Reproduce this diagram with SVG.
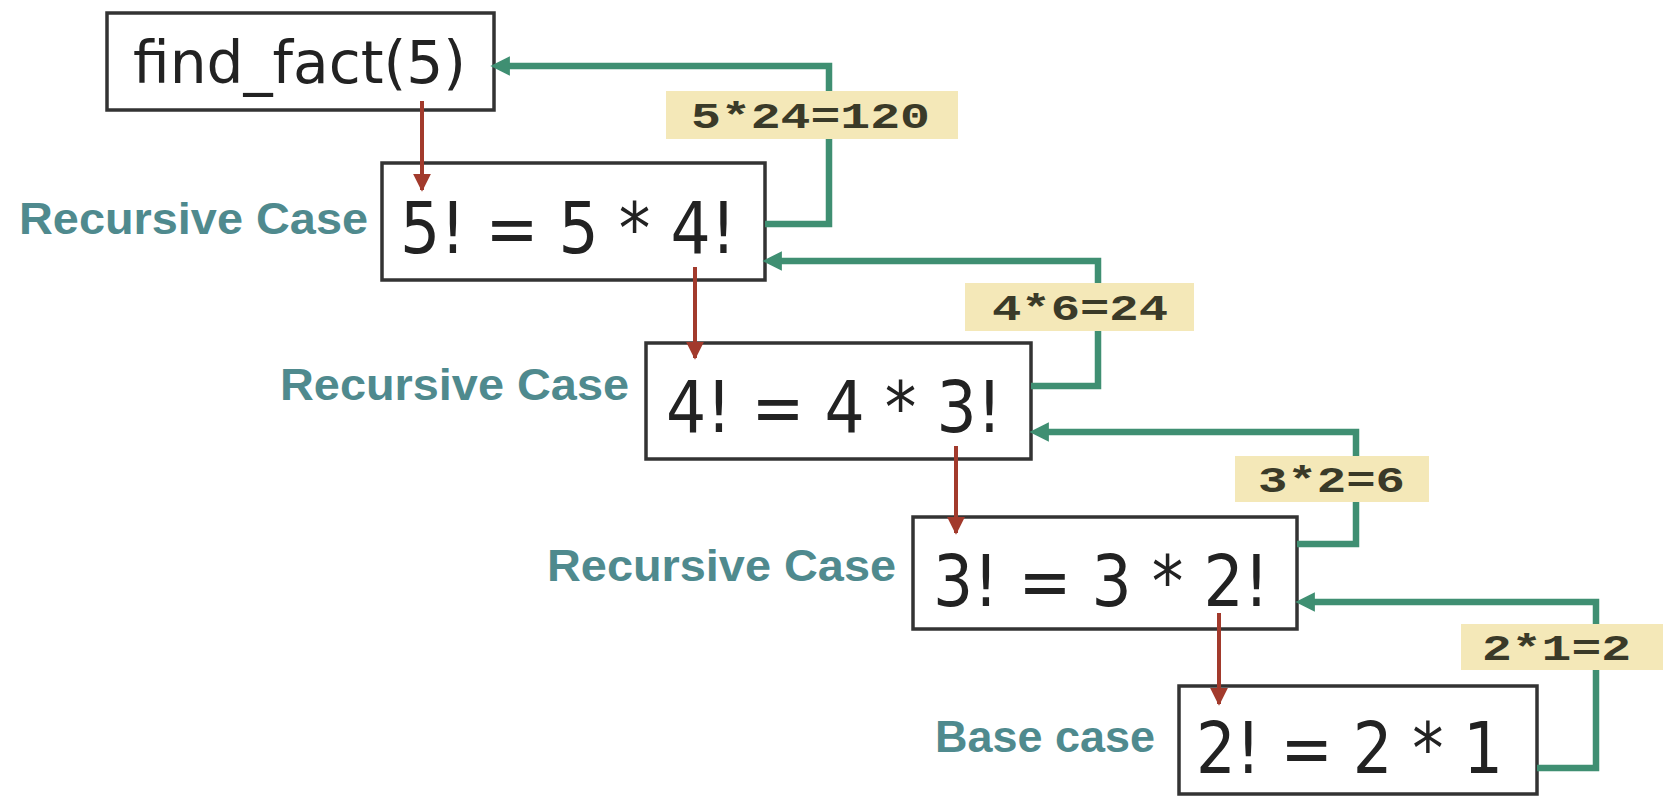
<svg xmlns="http://www.w3.org/2000/svg" width="1672" height="808" viewBox="0 0 1672 808">
<style>
.box{fill:#fff;stroke:#333;stroke-width:3.5}
.eq{font-family:"DejaVu Sans Condensed","DejaVu Sans",sans-serif;font-size:72px;fill:#222}
.call{font-family:"DejaVu Sans Condensed","DejaVu Sans",sans-serif;font-size:58px;fill:#222}
.case{font-family:"Liberation Sans",Arial,sans-serif;font-weight:bold;font-size:44px;fill:#4f8a8e}
.ret{fill:none;stroke:#3f8f72;stroke-width:6.5}
.call-arrow{fill:none;stroke:#a23a2c;stroke-width:4}
.lblbg{fill:#f4e8b8}
.lbl{font-family:"Liberation Mono","Courier New",monospace;font-weight:bold;font-size:36px;fill:#3a3a28}
</style>
<defs>
<marker id="gh" viewBox="0 0 10 10" refX="2" refY="5" markerWidth="3" markerHeight="3" orient="auto" markerUnits="strokeWidth">
<path d="M0,0 L10,5 L0,10 z" fill="#3f8f72"/>
</marker>
<marker id="rh" viewBox="0 0 10 10" refX="9" refY="5" markerWidth="4.5" markerHeight="4.5" orient="auto" markerUnits="strokeWidth">
<path d="M0,0 L10,5 L0,10 z" fill="#a23a2c"/>
</marker>
</defs>
<rect width="1672" height="808" fill="#fff"/>
<g id="node-call">
<rect class="box" x="107" y="13" width="387" height="97"/>
<text class="call" x="133" y="83" textLength="333" lengthAdjust="spacingAndGlyphs">find_fact(5)</text>
</g>
<g id="node-5">
<text class="case" x="19" y="234" textLength="349" lengthAdjust="spacingAndGlyphs">Recursive Case</text>
<rect class="box" x="382" y="163" width="383" height="117"/>
<text class="eq" x="400" y="253" textLength="336" lengthAdjust="spacingAndGlyphs">5! = 5 * 4!</text>
</g>
<g id="node-4">
<text class="case" x="280" y="400" textLength="349" lengthAdjust="spacingAndGlyphs">Recursive Case</text>
<rect class="box" x="646" y="343" width="385" height="116"/>
<text class="eq" x="666" y="432" textLength="336" lengthAdjust="spacingAndGlyphs">4! = 4 * 3!</text>
</g>
<g id="node-3">
<text class="case" x="547" y="581" textLength="349" lengthAdjust="spacingAndGlyphs">Recursive Case</text>
<rect class="box" x="913" y="517" width="384" height="112"/>
<text class="eq" x="933" y="606" textLength="336" lengthAdjust="spacingAndGlyphs">3! = 3 * 2!</text>
</g>
<g id="node-2">
<text class="case" x="935" y="752" textLength="220" lengthAdjust="spacingAndGlyphs">Base case</text>
<rect class="box" x="1179" y="686" width="358" height="108"/>
<text class="eq" x="1196" y="773" textLength="307" lengthAdjust="spacingAndGlyphs">2! = 2 * 1</text>
</g>
<g id="connectors">
<line class="call-arrow" x1="422" y1="101" x2="422" y2="190" marker-end="url(#rh)"/>
<line class="call-arrow" x1="695" y1="267" x2="695" y2="358" marker-end="url(#rh)"/>
<line class="call-arrow" x1="956" y1="446" x2="956" y2="533" marker-end="url(#rh)"/>
<line class="call-arrow" x1="1219" y1="613" x2="1219" y2="704" marker-end="url(#rh)"/>
<polyline class="ret" points="765,224 829,224 829,66 506,66" marker-end="url(#gh)"/>
<polyline class="ret" points="1031,386 1098,386 1098,261 778,261" marker-end="url(#gh)"/>
<polyline class="ret" points="1297,544 1356,544 1356,432 1045,432" marker-end="url(#gh)"/>
<polyline class="ret" points="1537,768 1596,768 1596,602 1311,602" marker-end="url(#gh)"/>
<rect class="lblbg" x="666" y="91" width="292" height="48"/>
<text class="lbl" x="691" y="128" textLength="239" lengthAdjust="spacingAndGlyphs">5*24=120</text>
<rect class="lblbg" x="965" y="283" width="229" height="48"/>
<text class="lbl" x="992" y="320" textLength="176" lengthAdjust="spacingAndGlyphs">4*6=24</text>
<rect class="lblbg" x="1235" y="456" width="194" height="46"/>
<text class="lbl" x="1258" y="492" textLength="147" lengthAdjust="spacingAndGlyphs">3*2=6</text>
<rect class="lblbg" x="1461" y="624" width="202" height="46"/>
<text class="lbl" x="1482" y="660" textLength="149" lengthAdjust="spacingAndGlyphs">2*1=2</text>
</g>
</svg>
